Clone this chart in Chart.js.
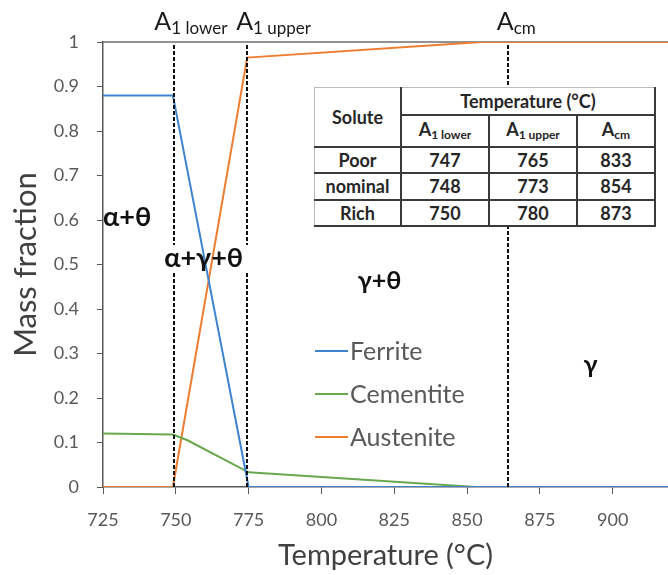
<!DOCTYPE html>
<html>
<head>
<meta charset="utf-8">
<script src="https://cdn.jsdelivr.net/npm/chart.js@4.4.0/dist/chart.umd.min.js"></script>
<style>
  html, body { margin: 0; padding: 0; background: #fff; }
  #wrap { position: relative; width: 668px; height: 575px; }
  #tbl {
    position: absolute; left: 314px; top: 87px; width: 342px;
    border-collapse: collapse; background: #fff;
    font-family: Lato, "Noto Sans", sans-serif; font-weight: bold; font-size: 18px; color: #262626;
  }
  #tbl td { border: 2px solid #3a3a3a; text-align: center; padding: 0; line-height: 1; }
  #tbl tr:first-child td { border-top: 1px solid #bbb; }
  #tbl td.first { border-left: 1px solid #bbb; }
  #tbl sub { font-size: 12px; vertical-align: -3px; }
</style>
</head>
<body>
<div id="wrap">
  <canvas id="myChart" width="668" height="575"></canvas>
  <table id="tbl"></table>
</div>
<script>
// 데이터
const ferriteT = [725, 749, 775, 919];
const ferriteY = [0.88, 0.88, 0, 0];
const cementiteT = [725, 749, 754, 775, 853, 919];
const cementiteY = [0.12, 0.118, 0.105, 0.033, 0, 0];
const austeniteT = [725, 749, 774.5, 855, 919];
const austeniteY = [0, 0, 0.965, 1, 1];

const seriesNames = ['Ferrite', 'Cementite', 'Austenite'];
const seriesColors = ['#3d83cf', '#6aa84f', '#ed7d31'];

// 변태 온도 (점선)
const critTemps = [749.5, 774.5, 864];
const critNames = [['A', '1 lower'], ['A', '1 upper'], ['A', 'cm']];

// 표
const soluteRows = ['Poor', 'nominal', 'Rich'];
const a1Lower = [747, 748, 750];
const a1Upper = [765, 773, 780];
const aCm = [833, 854, 873];

function pts(xs, ys) {
    return xs.map(function (x, i) { return { x: x, y: ys[i] }; });
}

//S 표 만들기
const tbl = document.getElementById('tbl');
let html = '<tr style="height:27px"><td class="first" rowspan="2" style="width:85px">Solute</td>' +
    '<td colspan="3">Temperature (°C)</td></tr>' +
    '<tr style="height:32px"><td style="width:86px">A<sub>1 lower</sub></td>' +
    '<td style="width:86px">A<sub>1 upper</sub></td><td>A<sub>cm</sub></td></tr>';
soluteRows.forEach(function (name, i) {
    html += '<tr style="height:26.5px"><td class="first">' + name + '</td><td>' + a1Lower[i] +
        '</td><td>' + a1Upper[i] + '</td><td>' + aCm[i] + '</td></tr>';
});
tbl.innerHTML = html;
//E 표 만들기

const FONT = 'Lato, "Noto Sans", sans-serif';

const overlay = {
    id: 'overlay',
    beforeDatasetsDraw: function (chart) {
        const ctx = chart.ctx, a = chart.chartArea;
        ctx.save();
        ctx.strokeStyle = '#6e6e6e';
        ctx.lineWidth = 1.5;
        ctx.beginPath();
        ctx.moveTo(a.left, a.top);
        ctx.lineTo(a.right, a.top);
        ctx.stroke();
        ctx.restore();
    },
    afterDatasetsDraw: function (chart) {
        const ctx = chart.ctx, a = chart.chartArea;
        const xs = chart.scales.x, ys = chart.scales.y;
        ctx.save();
        // 점선
        ctx.strokeStyle = '#111';
        ctx.lineWidth = 2;
        ctx.setLineDash([4, 2]);
        critTemps.forEach(function (t, i) {
            const px = Math.round(xs.getPixelForValue(t));
            ctx.beginPath();
            if (i < 2) {
                ctx.moveTo(px, a.top + 3); ctx.lineTo(px, 245);
                ctx.moveTo(px, 273); ctx.lineTo(px, a.bottom);
            } else {
                ctx.moveTo(px, a.top + 3); ctx.lineTo(px, a.bottom);
            }
            ctx.stroke();
        });
        ctx.setLineDash([]);

        // A 라벨
        const offs = [-20, -11, -11];
        ctx.fillStyle = '#1a1a1a';
        ctx.textBaseline = 'alphabetic';
        critTemps.forEach(function (t, i) {
            let x = xs.getPixelForValue(t) + offs[i];
            ctx.font = '25px ' + FONT;
            ctx.fillText(critNames[i][0], x, 30);
            x += ctx.measureText(critNames[i][0]).width;
            ctx.font = '17px ' + FONT;
            ctx.fillText(critNames[i][1], x, 34);
        });

        // 상 영역 라벨
        ctx.textBaseline = 'middle';
        ctx.fillStyle = '#111';
        ctx.font = 'bold 27px ' + FONT;
        ctx.fillText('α+θ', xs.getPixelForValue(725), ys.getPixelForValue(0.605));
        ctx.fillText('α+γ+θ', xs.getPixelForValue(746), ys.getPixelForValue(0.515));
        ctx.font = 'bold 25px ' + FONT;
        ctx.fillText('γ+θ', xs.getPixelForValue(812.5), ys.getPixelForValue(0.464));
        ctx.fillText('γ', xs.getPixelForValue(890), ys.getPixelForValue(0.275));

        // 범례
        ctx.font = '25px ' + FONT;
        ctx.lineWidth = 2;
        chart.data.datasets.forEach(function (ds, i) {
            const y = 351 + i * 43;
            ctx.strokeStyle = ds.borderColor;
            ctx.beginPath();
            ctx.moveTo(315, y); ctx.lineTo(348, y);
            ctx.stroke();
            ctx.fillStyle = '#595959';
            ctx.fillText(ds.label, 350, y + 1);
        });
        ctx.restore();
    }
};

const ctx = document.getElementById('myChart').getContext('2d');
const myChart = new Chart(ctx, {
    type: 'line',
    data: {
        datasets: [
            { label: seriesNames[0], data: pts(ferriteT, ferriteY) },
            { label: seriesNames[1], data: pts(cementiteT, cementiteY) },
            { label: seriesNames[2], data: pts(austeniteT, austeniteY) }
        ].map(function (d, i) {
            d.borderColor = seriesColors[i];
            d.backgroundColor = seriesColors[i];
            d.borderWidth = 2;
            d.pointRadius = 0;
            d.tension = 0;
            return d;
        })
    },
    options: {
        responsive: false,
        animation: false,
        layout: { padding: { top: 42, left: 0, right: 0, bottom: 0 } },
        plugins: { legend: { display: false }, tooltip: { enabled: false } },
        scales: {
            x: {
                type: 'linear',
                min: 725,
                max: 919,
                afterFit: function (s) { s.height = 88; },
                ticks: { stepSize: 25, includeBounds: false, padding: 15, color: '#595959', font: { family: FONT, size: 18 } },
                grid: { display: true, drawOnChartArea: false, drawTicks: true, tickLength: 7, color: '#595959' },
                border: { color: '#595959', width: 1.5 },
                title: { display: true, text: 'Temperature (°C)', color: '#404040', font: { family: FONT, size: 29 }, padding: { top: 0, bottom: 2 } }
            },
            y: {
                min: 0,
                max: 1,
                afterFit: function (s) { s.width = 103; },
                ticks: {
                    stepSize: 0.1, padding: 18, color: '#595959', font: { family: FONT, size: 18 },
                    callback: function (v) { return String(Number(v.toFixed(1))); }
                },
                grid: { display: true, drawOnChartArea: false, drawTicks: true, tickLength: 6, color: '#595959' },
                border: { color: '#595959', width: 1.5 },
                title: { display: true, text: 'Mass fraction', color: '#404040', font: { family: FONT, size: 31 }, padding: { top: 7, bottom: 0 } }
            }
        }
    },
    plugins: [overlay]
});
</script>
</body>
</html>
